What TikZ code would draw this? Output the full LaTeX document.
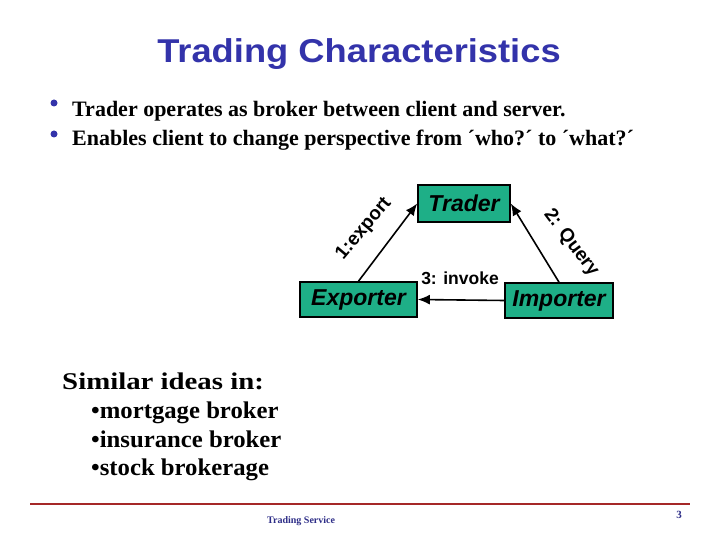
\documentclass[tikz,border=0pt]{standalone}
\usepackage{fontspec}
\setmainfont{Liberation Serif}
\setsansfont{Liberation Sans}
\usetikzlibrary{arrows.meta}
\definecolor{titleblue}{RGB}{51,51,170}
\definecolor{boxgreen}{RGB}{30,175,135}
\definecolor{footred}{RGB}{165,40,40}
\definecolor{footblue}{RGB}{45,45,135}
\begin{document}
\begin{tikzpicture}[x=1pt,y=-1pt,
  box/.style={draw=black,line width=1.6pt,fill=boxgreen,inner sep=0pt,
    font=\sffamily\bfseries\itshape\fontsize{23}{26}\selectfont},
  conn/.style={line width=1.6pt,-{Latex[length=12pt,width=10pt]}},
  lbl/.style={font=\sffamily\bfseries\fontsize{19}{22}\selectfont,inner sep=0pt},
  bodytext/.style={font=\bfseries\fontsize{22}{26}\selectfont,inner sep=0pt,anchor=base west},
  simtext/.style={font=\bfseries\fontsize{24}{28}\selectfont,inner sep=0pt,anchor=base west,transform shape},
  dot/.style={circle,fill=titleblue,inner sep=0pt,minimum size=7pt}]
\useasboundingbox (0,0) rectangle (720,540);

% title
\node[font=\sffamily\bfseries\fontsize{33}{38}\selectfont,text=titleblue,anchor=base,inner sep=0pt,transform shape,xscale=1.1] (title) at (359,63) {Trading Characteristics};

% bullets
\node[dot] (b1) at (54,103) {};
\node[bodytext] (t1) at (72,117) {Trader operates as broker between client and server.};
\node[dot] (b2) at (54,134) {};
\node[bodytext] (t2) at (72,146) {Enables client to change perspective from ´who?´ to ´what?´};

% diagram
\node[box,minimum width=92pt,minimum height=37pt] (trader) at (464,203.5) {Trader};
\node[box,minimum width=117pt,minimum height=35pt] (exporter) at (358.5,299.5) {Exporter};
\node[box,minimum width=108pt,minimum height=35pt] (importer) at (559,300.5) {Importer};

\draw[conn] (exporter.north) -- (trader.west);
\draw[conn] (importer.north) -- (trader.east);
\draw[conn] (importer.west) -- (exporter.east);

\node[lbl,rotate=50] (l1) at (364,229) {1:export};
\node[lbl,rotate=-53] (l2) at (571,243) {2: Query};
\node[lbl,font=\sffamily\bfseries\fontsize{17.5}{20}\selectfont] (l3) at (460,278) {3: invoke};

% similar ideas
\node[simtext,xscale=1.2] (s0) at (62,389) {Similar ideas in:};
\node[simtext,xscale=1.03] (s1) at (91,418) {•mortgage broker};
\node[simtext,xscale=1.03] (s2) at (91,447) {•insurance broker};
\node[simtext,xscale=1.03] (s3) at (91,475) {•stock brokerage};

% footer
\coordinate (fl) at (30,504);
\coordinate (fr) at (690,504);
\draw[footred,line width=2pt] (fl) -- (fr);
\node[font=\bfseries\fontsize{10}{12}\selectfont,text=footblue,anchor=base west,inner sep=0pt] (foot) at (267,523) {Trading Service};
\node[font=\bfseries\fontsize{11}{13}\selectfont,text=footblue,anchor=base,inner sep=0pt] (pg) at (679,518) {3};
\end{tikzpicture}
\end{document}
